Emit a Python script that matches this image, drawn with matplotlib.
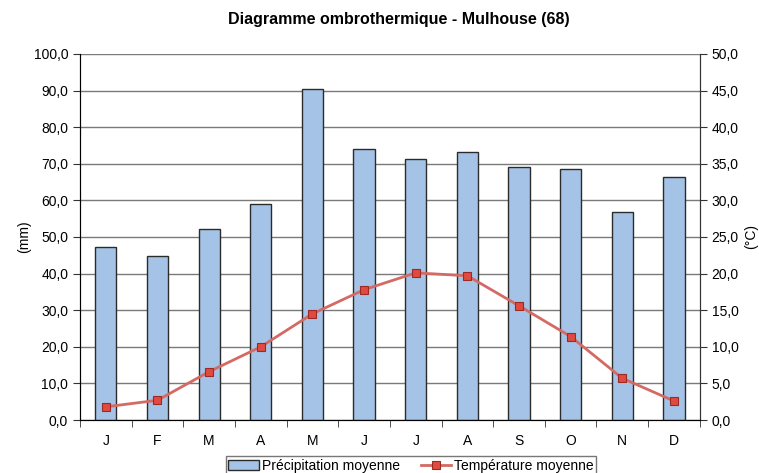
import matplotlib
matplotlib.use("Agg")
import matplotlib.pyplot as plt
import numpy as np
from matplotlib.ticker import FuncFormatter, MultipleLocator

plt.rcParams['font.family'] = ['Liberation Sans', 'DejaVu Sans']

mois = ['J', 'F', 'M', 'A', 'M', 'J', 'J', 'A', 'S', 'O', 'N', 'D']
precipitation = [47.3, 44.7, 52.3, 59.0, 90.5, 73.9, 71.2, 73.3, 69.2, 68.6, 56.8, 66.4]
temperature = [1.8, 2.7, 6.6, 10.0, 14.5, 17.8, 20.1, 19.7, 15.6, 11.4, 5.7, 2.6]

virgule = FuncFormatter(lambda v, p: f"{v:.1f}".replace('.', ','))

fig = plt.figure(figsize=(7.59, 4.73), dpi=100)
ax = fig.add_axes([0.1054, 0.112, 0.8166, 0.774])
x = np.arange(len(mois))

ax.bar(x, precipitation, width=0.41, color='#a4c3e6', edgecolor='#2b2b2b',
       linewidth=1.0, zorder=3, label='Précipitation moyenne')
ax.set_xlim(-0.5, 11.5)
ax.set_ylim(0, 100)
ax.yaxis.set_major_locator(MultipleLocator(10))
ax.yaxis.set_major_formatter(virgule)
ax.grid(axis='y', color='#7a7a7a', linewidth=1.0, zorder=0)
ax.set_xticks(x)
ax.set_xticklabels(mois)
ax.set_xticks(np.arange(-0.5, 12, 1), minor=True)
ax.tick_params(axis='x', which='major', length=0, pad=10, labelsize=10)
ax.tick_params(axis='x', which='minor', length=5, direction='out', color='#333333')
ax.tick_params(axis='y', length=5, direction='out', labelsize=10, color='#333333')
ax.set_ylabel('(mm)', fontsize=10)
ax.yaxis.set_label_coords(-0.079, 0.5)
ax.spines['top'].set_visible(False)
for s in ['left', 'bottom', 'right']:
    ax.spines[s].set_color('#333333')

ax2 = ax.twinx()
ax2.plot(x, temperature, color='#d46a64', linewidth=2.0, marker='s', markersize=6,
         markerfacecolor='#e04a40', markeredgecolor='#9a2a22', markeredgewidth=0.8,
         zorder=4, label='Température moyenne')
ax2.set_ylim(0, 50)
ax2.yaxis.set_major_locator(MultipleLocator(5))
ax2.yaxis.set_major_formatter(virgule)
ax2.tick_params(axis='y', length=5, direction='out', labelsize=10, color='#333333')
ax2.set_ylabel('(°C)', fontsize=10)
ax2.yaxis.set_label_coords(1.072, 0.5)
ax2.spines['top'].set_visible(False)
ax2.spines['right'].set_color('#333333')

fig.suptitle('Diagramme ombrothermique - Mulhouse (68)', fontsize=11.5,
             fontweight='bold', x=0.525, y=0.975)

h1, l1 = ax.get_legend_handles_labels()
h2, l2 = ax2.get_legend_handles_labels()
fig.legend(h1 + h2, l1 + l2, loc='upper center', bbox_to_anchor=(0.5415, 0.05),
           ncol=2, frameon=True, fancybox=False, edgecolor='#555555', fontsize=10,
           handlelength=2.2, handletextpad=0.2, columnspacing=1.5, borderpad=0.2)

fig.savefig('out.png', dpi=100)
